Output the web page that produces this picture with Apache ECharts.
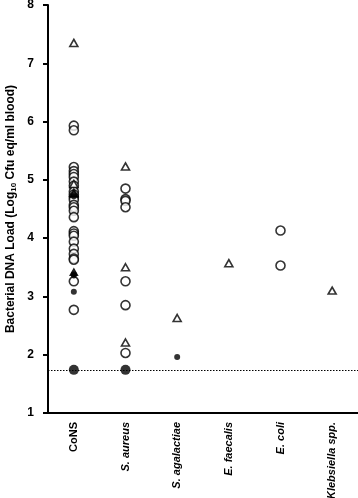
<!DOCTYPE html>
<html><head><meta charset="utf-8">
<script src="https://cdn.jsdelivr.net/npm/echarts@6/dist/echarts.min.js"></script>
<style>html,body{margin:0;padding:0;background:#fff}#c{width:358px;height:498px}</style>
</head><body><div id="c"></div>
<script>
var categories = ['CoNS', 'S. aureus', 'S. agalactiae', 'E. faecalis', 'E. coli', 'Klebsiella spp.'];
var yTicks = [1, 2, 3, 4, 5, 6, 7, 8];
var detectionLimit = 1.74;
// values per category: [categoryIndex, log10 load]
var openCircles = [
  [0,5.93],[0,5.85],[0,5.22],[0,5.15],[0,5.10],[0,5.05],[0,4.97],[0,4.90],[0,4.80],[0,4.75],[0,4.70],[0,4.66],
  [0,4.57],[0,4.53],[0,4.47],[0,4.36],[0,4.12],[0,4.08],[0,4.04],[0,3.94],[0,3.82],[0,3.73],[0,3.65],[0,3.63],
  [0,3.26],[0,2.77],
  [1,4.85],[1,4.67],[1,4.64],[1,4.53],[1,3.26],[1,2.85],[1,2.03],
  [4,4.13],[4,3.53]
];
var openTriangles = [
  [0,7.35],[0,4.93],[0,4.78],
  [1,5.23],[1,3.50],[1,2.21],
  [2,2.63],
  [3,3.57],
  [5,3.10]
];
var filledTriangles = [[0,4.76],[0,3.42]];
var filledCircles = [[0,4.72],[0,3.38],[0,3.36],[0,3.08],[2,1.96]];
var filledLarge = [[0,1.74],[1,1.74]];

var chart = echarts.init(document.getElementById('c'));
var bold = {fontFamily:'Liberation Sans, Arial, sans-serif', fontWeight:'bold', color:'#000'};
chart.setOption({
  animation:false,
  backgroundColor:'#fff',
  grid:{left:48, right:0, top:5, bottom:85, containLabel:false, outerBoundsMode:'none'},
  xAxis:{
    type:'category',
    data: categories.map(function(c){return {value:c, textStyle:{fontStyle: c==='CoNS'?'normal':'italic'}};}),
    boundaryGap:true,
    axisLine:{lineStyle:{color:'#000', width:2}},
    axisTick:{alignWithLabel:true, length:5, lineStyle:{color:'#000', width:2}},
    axisLabel:Object.assign({rotate:90, fontSize:11, margin:9, interval:0}, bold),
    splitLine:{show:false}
  },
  yAxis:{
    type:'value', min:yTicks[0], max:yTicks[yTicks.length-1], interval:1,
    name:'{a|Bacterial DNA Load (Log}{s|10}{a| Cfu eq/ml blood)}',
    nameLocation:'middle', nameGap:30, nameRotate:90, nameMoveOverlap:false,
    nameTextStyle:{rich:{
      a:Object.assign({fontSize:12}, bold),
      s:Object.assign({fontSize:8, verticalAlign:'bottom', padding:[6,0,0,0]}, bold)
    }},
    axisLine:{show:true, lineStyle:{color:'#000', width:2}},
    axisTick:{show:true, length:5, lineStyle:{color:'#000', width:2}},
    axisLabel:Object.assign({fontSize:12, margin:14}, bold),
    splitLine:{show:false}
  },
  series:[
    {type:'scatter', data:openCircles, symbol:'circle', symbolSize:9,
     itemStyle:{color:'#fff', borderColor:'#000', borderWidth:1.6},
     markLine:{silent:true, symbol:'none', label:{show:false},
       lineStyle:{color:'#000', type:[1.5,1.5], width:1},
       data:[{yAxis:detectionLimit}]}},
    {type:'scatter', data:openTriangles, symbol:'triangle', symbolSize:[8,7],
     itemStyle:{color:'#fff', borderColor:'#000', borderWidth:1.6}},
    {type:'scatter', data:filledTriangles, symbol:'triangle', symbolSize:[8,7],
     itemStyle:{color:'#000', borderColor:'#000', borderWidth:1}},
    {type:'scatter', data:filledCircles, symbol:'circle', symbolSize:6,
     itemStyle:{color:'#000'}},
    {type:'scatter', data:filledLarge, symbol:'circle', symbolSize:10,
     itemStyle:{color:'#000'}}
  ]
});
</script></body></html>
